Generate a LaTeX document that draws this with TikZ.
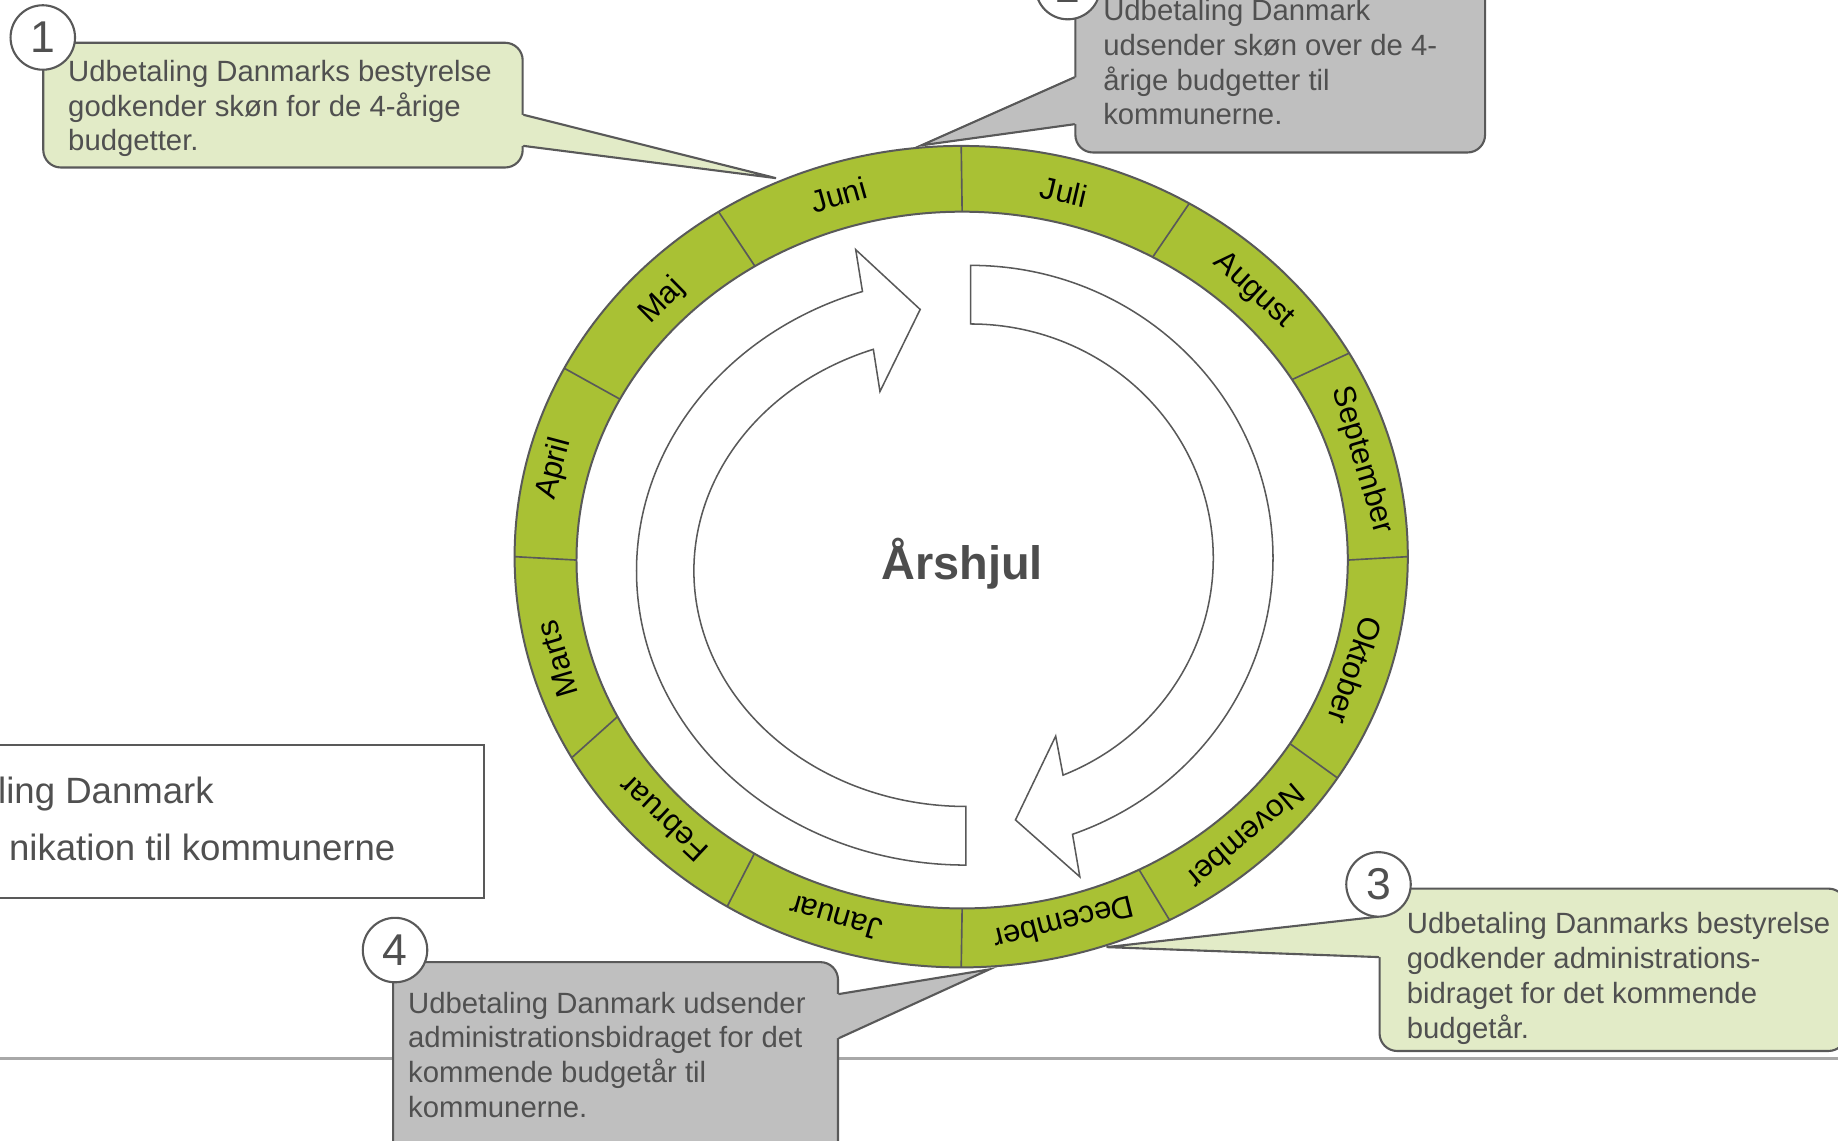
\documentclass[tikz,border=0pt]{standalone}
\usepackage{fontspec}
\setmainfont{Liberation Sans}
\usetikzlibrary{calc}
\definecolor{ringgreen}{RGB}{169,193,52}
\definecolor{lgreen}{RGB}{226,235,199}
\definecolor{cgray}{RGB}{191,191,191}
\definecolor{edge}{RGB}{89,89,89}
\definecolor{txt}{RGB}{80,80,80}
\definecolor{ttl}{RGB}{77,77,77}
\definecolor{rulegray}{RGB}{168,168,168}
\newcommand\firststrut{\rule{0pt}{22pt}}
\begin{document}
\begin{tikzpicture}[x=1pt,y=1pt,
  outline/.style={draw=edge,line width=1.8pt},
  calloutbox/.style={outline,rounded corners=15pt,inner sep=0pt},
  pointer/.style={outline,line cap=round},
  ctext/.style={anchor=north west,inner sep=0pt,align=left,text=txt,font=\fontsize{25}{29.8}\selectfont},
  numcircle/.style={circle,draw=edge,line width=1.8pt,fill=white,minimum size=55pt,inner sep=0pt,text=txt,font=\fontsize{38}{38}\selectfont},
  month/.style={inner sep=0pt,font=\fontsize{26.5}{26.5}\selectfont,text=black},
  legtext/.style={anchor=base east,inner sep=0pt,text=txt,font=\fontsize{31.2}{31.2}\selectfont},
  arrowshape/.style={draw=edge,line width=1.3pt,fill=white}]

\useasboundingbox (0,0) rectangle (1568,973);
\fill[white] (0,0) rectangle (1568,973);

% horizontal rule
\draw[rulegray,line width=1.8pt] (-5,70) -- (1575,70);

% legend box
\node[draw=edge,line width=1.6pt,fill=white,anchor=south west,minimum width=422pt,minimum height=131pt,inner sep=0pt] (legend) at (-10,206) {};
\node[legtext] (leg1) at (182.5,287.7) {ling Danmark};
\node[legtext] (leg2) at (337.5,239.3) {nikation til kommunerne};

% ring
\coordinate (RO) at (820,498.1);
\coordinate (RI) at (820.8,495.2);
\fill[ringgreen,even odd rule] (RO) ellipse[x radius=381,y radius=350.4] (RI) ellipse[x radius=329,y radius=297.2];
\draw[draw=edge,line width=1.7pt] (RO) ellipse[x radius=381,y radius=350.4];
\draw[draw=edge,line width=1.7pt] (RI) ellipse[x radius=329,y radius=297.2];
\foreach \ti/\to in {90/90,60.4/59.3,31.2/29.7,0/0,-31.8/-32.6,-62.7/-62.2,-90/-90,-122.6/-121.6,-153.3/-150.7,180/180,152.5/152.7,122.5/122.9}
  \draw[draw=edge,line width=1.4pt] ($(RI)+(\ti:329 and 297.2)$) -- ($(RO)+(\to:381 and 350.4)$);

% month labels
\node[month,rotate=15.8] (jun) at (715.5,807) {Juni};
\node[month,rotate=-13] (jul) at (907.8,809.6) {Juli};
\node[month,rotate=-42.4] (aug) at (1069.5,725) {August};
\node[month,rotate=-73.6] (sep) at (1162,580.5) {September};
\node[month,rotate=-108.6] (okt) at (1156,401.4) {Oktober};
\node[month,rotate=-139.5] (nov) at (1063,259.2) {November};
\node[month,rotate=-166] (dec) at (907.7,185.3) {December};
\node[month,rotate=163.9] (jan) at (713,190.2) {Januar};
\node[month,rotate=136.9] (feb) at (566,274.2) {Februar};
\node[month,rotate=106.4] (mar) at (475.5,410.7) {Marts};
\node[month,rotate=75.1] (apr) at (473,573) {April};
\node[month,rotate=44.6] (maj) at (565,716.3) {Maj};

% cycle arrows
\coordinate (CA) at (824,486);
\draw[arrowshape] ($(CA)+(-90:281 and 251)$) arc[start angle=-90,end angle=-251.7,x radius=281,y radius=251]
  -- (730,760) -- (785,709) -- (750.7,639)
  -- ($(CA)+(109.9:232 and 201)$) arc[start angle=109.9,end angle=270,x radius=232,y radius=201] -- cycle;
\coordinate (CB) at (828,496.6);
\draw[arrowshape] ($(CB)+(90:258 and 250)$) arc[start angle=90,end angle=-70.3,x radius=258,y radius=250]
  -- (921.2,225) -- (866.3,273.5) -- (900.6,345)
  -- ($(CB)+(-67.6:207 and 200)$) arc[start angle=-67.6,end angle=90,x radius=207,y radius=200] -- cycle;

\node[anchor=base,inner sep=0pt,text=ttl,font=\bfseries\fontsize{40}{40}\selectfont] (title) at (820.7,479) {Årshjul};

% callout 1
\node[calloutbox,fill=lgreen,anchor=north west,minimum width=409pt,minimum height=106.4pt] (box1) at (36,937.4) {};
\coordinate (tip1) at (662,821);
\fill[lgreen] (439,875) -- (446,875) -- (tip1) -- (446,848.5) -- (439,848.5) -- cycle;
\draw[pointer] (box1.east |- 0,875) -- (tip1) -- (box1.east |- 0,848.5);
\node[ctext] (t1) at (58,926) {\firststrut Udbetaling Danmarks bestyrelse\\godkender skøn for de 4-årige\\budgetter.};
\node[numcircle] (c1) at (36.5,941) {1};

% callout 2
\node[calloutbox,fill=cgray,anchor=south west,minimum width=349.5pt,minimum height=170pt] (box2) at (916.5,842) {};
\coordinate (tip2) at (786,849);
\fill[cgray] (923,907) -- (916,907) -- (tip2) -- (916,867) -- (923,867) -- cycle;
\draw[pointer] (box2.west |- 0,907) -- (tip2) -- (box2.west |- 0,867);
\node[ctext] (t2) at (941,978) {\firststrut Udbetaling Danmark\\udsender skøn over de 4-\\årige budgetter til\\kommunerne.};
\node[numcircle] (c2) at (911,984) {2};

% callout 3
\node[calloutbox,fill=lgreen,anchor=south west,minimum width=398pt,minimum height=138.5pt] (box3) at (1176,75.5) {};
\coordinate (tip3) at (944,165);
\fill[lgreen] (1183,191) -- (1176,191) -- (tip3) -- (1176,156.5) -- (1183,156.5) -- cycle;
\draw[pointer] (box3.west |- 0,191) -- (tip3) -- (box3.west |- 0,156.5);
\node[ctext] (t3) at (1200,199) {\firststrut Udbetaling Danmarks bestyrelse\\godkender administrations-\\bidraget for det kommende\\budgetår.};
\node[numcircle] (c3) at (1176,218.5) {3};

% callout 4
\node[calloutbox,fill=cgray,anchor=south west,minimum width=379.5pt,minimum height=171.3pt] (box4) at (334.5,-20) {};
\coordinate (tip4) at (844,146);
\fill[cgray] (707,125) -- (715,125) -- (tip4) -- (715,87.4) -- (707,87.4) -- cycle;
\draw[pointer] (box4.east |- 0,125) -- (tip4) -- (box4.east |- 0,87.4);
\node[ctext] (t4) at (348,131) {\firststrut Udbetaling Danmark udsender\\administrationsbidraget for det\\kommende budgetår til\\kommunerne.};
\node[numcircle] (c4) at (337,162.5) {4};

\end{tikzpicture}
\end{document}
